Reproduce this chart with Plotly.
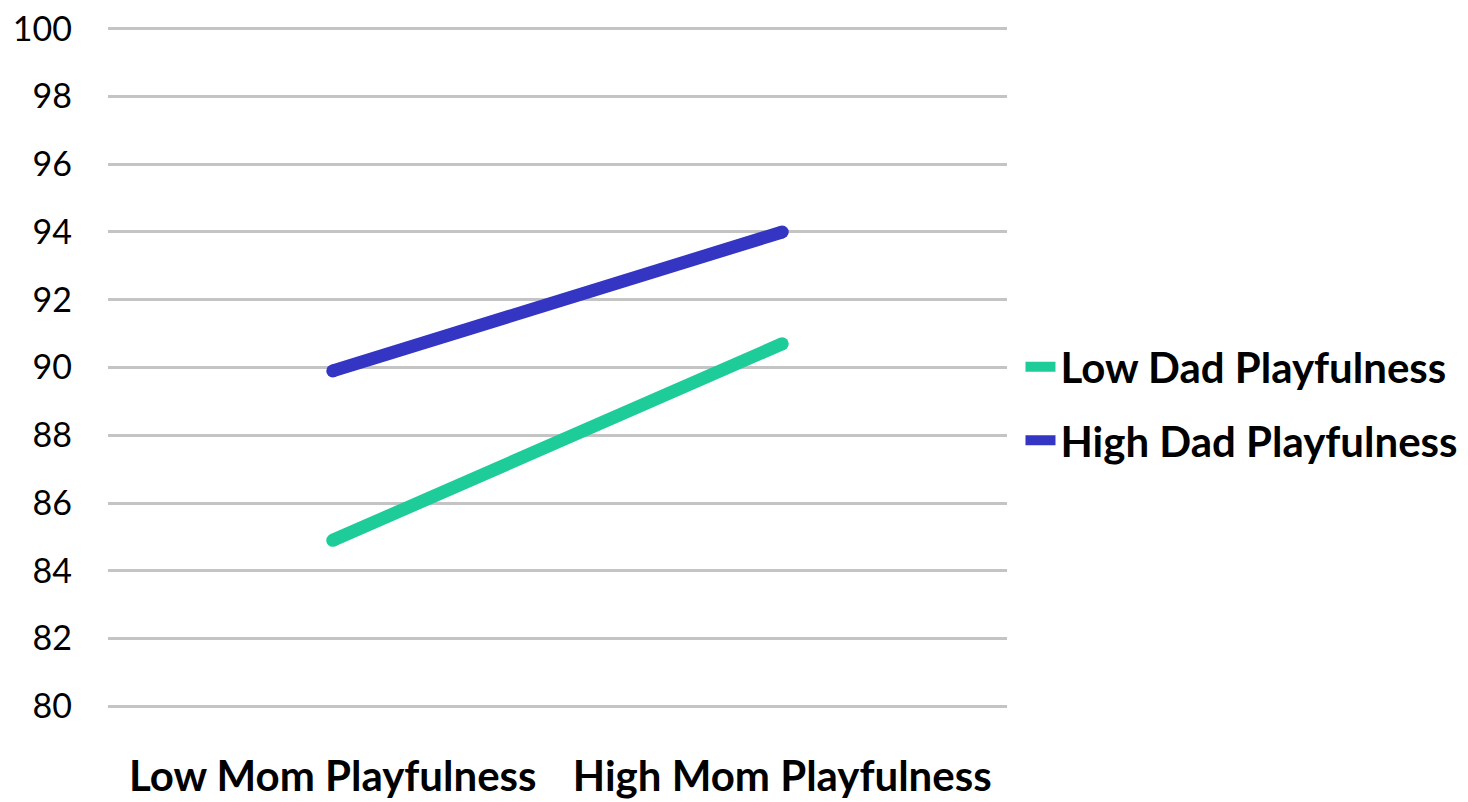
import plotly.graph_objects as go

categories = ["Low Mom Playfulness", "High Mom Playfulness"]
low_dad = [84.9, 90.7]
high_dad = [89.9, 94.0]
series_names = ["Low Dad Playfulness", "High Dad Playfulness"]
colors = ["#1ECC99", "#3535C4"]
y_ticks = list(range(80, 101, 2))

fig = go.Figure()
for vals, name, col, grp in [(low_dad, series_names[0], colors[0], "a"),
                             (high_dad, series_names[1], colors[1], "b")]:
    fig.add_trace(go.Scatter(x=categories, y=vals, mode="lines", name=name,
                             legendgroup=grp,
                             line=dict(color=col, width=13)))
    # round caps at the line ends
    fig.add_trace(go.Scatter(x=categories, y=vals, mode="markers", name=name,
                             legendgroup=grp, showlegend=False, hoverinfo="skip",
                             marker=dict(color=col, size=13, line=dict(width=0))))

legend_font = dict(family="Lato", size=42, color="#000000", weight="bold")
fig.update_layout(
    width=1468, height=802,
    margin=dict(l=100, r=469, t=19, b=102, autoexpand=False),
    paper_bgcolor="white", plot_bgcolor="white",
    font=dict(family="Lato", color="#000000"),
    xaxis=dict(type="category", range=[-0.5, 1.5], showgrid=False, showline=False,
               zeroline=False, ticks="", tickfont=dict(family="Lato", size=42, weight="bold"),
               ticklabelstandoff=40, automargin=False, ticklabeloverflow="allow"),
    yaxis=dict(range=[79.95, 100.05], tickvals=y_ticks, showgrid=True, gridcolor="#C4C4C4",
               gridwidth=3, zeroline=False, showline=False, ticks="",
               tickfont=dict(family="Lato", size=34), ticklabelstandoff=35, automargin=False,
               ticklabeloverflow="allow"),
    legend=dict(x=1.015, y=0.5007 + 0.05, xanchor="left", yanchor="top",
                font=legend_font, bgcolor="rgba(0,0,0,0)", itemwidth=30,
                tracegroupgap=16),
)
fig.write_html("out.html")
